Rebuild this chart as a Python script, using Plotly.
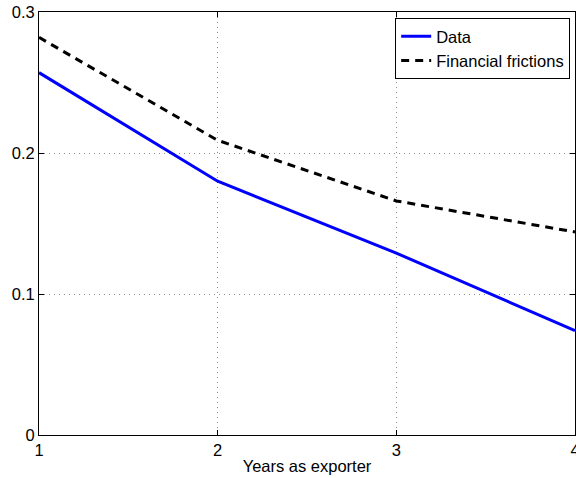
import plotly.graph_objects as go

# Share of new exporters by years of exporting experience
years = [1, 2, 3, 4]
data_values = [0.257, 0.180, 0.129, 0.074]
frictions_values = [0.282, 0.209, 0.166, 0.144]

x_ticks = [1, 2, 3, 4]
y_ticks = [0, 0.1, 0.2, 0.3]
y_tick_labels = ["0", "0.1", "0.2", "0.3"]

font_family = "Liberation Sans, Arial, sans-serif"
font_size = 16.5

fig = go.Figure()
fig.add_trace(go.Scatter(
    x=years, y=data_values, mode="lines", name="Data",
    line=dict(color="#0000ff", width=3),
))
fig.add_trace(go.Scatter(
    x=years, y=frictions_values, mode="lines", name="Financial frictions",
    line=dict(color="#000000", width=3, dash="8px,6px"),
))

axis_common = dict(
    showline=True, linecolor="black", linewidth=1, mirror="ticks",
    ticks="inside", ticklen=5, tickcolor="black", tickwidth=1,
    showgrid=True, gridcolor="#8c8c8c", griddash="1px,4px", gridwidth=1,
    zeroline=False, automargin=False, ticklabeloverflow="allow",
    tickfont=dict(family=font_family, size=font_size, color="black"),
)

fig.update_xaxes(
    range=[1, 4], tickvals=x_ticks, ticktext=[str(v) for v in x_ticks],
    title=dict(text="Years as exporter",
               font=dict(family=font_family, size=font_size, color="black"),
               standoff=2),
    **axis_common,
)
fig.update_yaxes(
    range=[0, 0.3], tickvals=y_ticks, ticktext=y_tick_labels,
    **axis_common,
)

fig.update_layout(
    width=576, height=478,
    margin=dict(l=39, r=1, t=12, b=43),
    plot_bgcolor="white", paper_bgcolor="white",
    font=dict(family=font_family, size=font_size, color="black"),
    showlegend=True,
    legend=dict(
        x=0.991, y=0.986, xanchor="right", yanchor="top",
        bgcolor="white", bordercolor="black", borderwidth=1,
        font=dict(family=font_family, size=font_size, color="black"),
        tracegroupgap=0, itemwidth=30,
    ),
)

fig.write_html("out.html")
